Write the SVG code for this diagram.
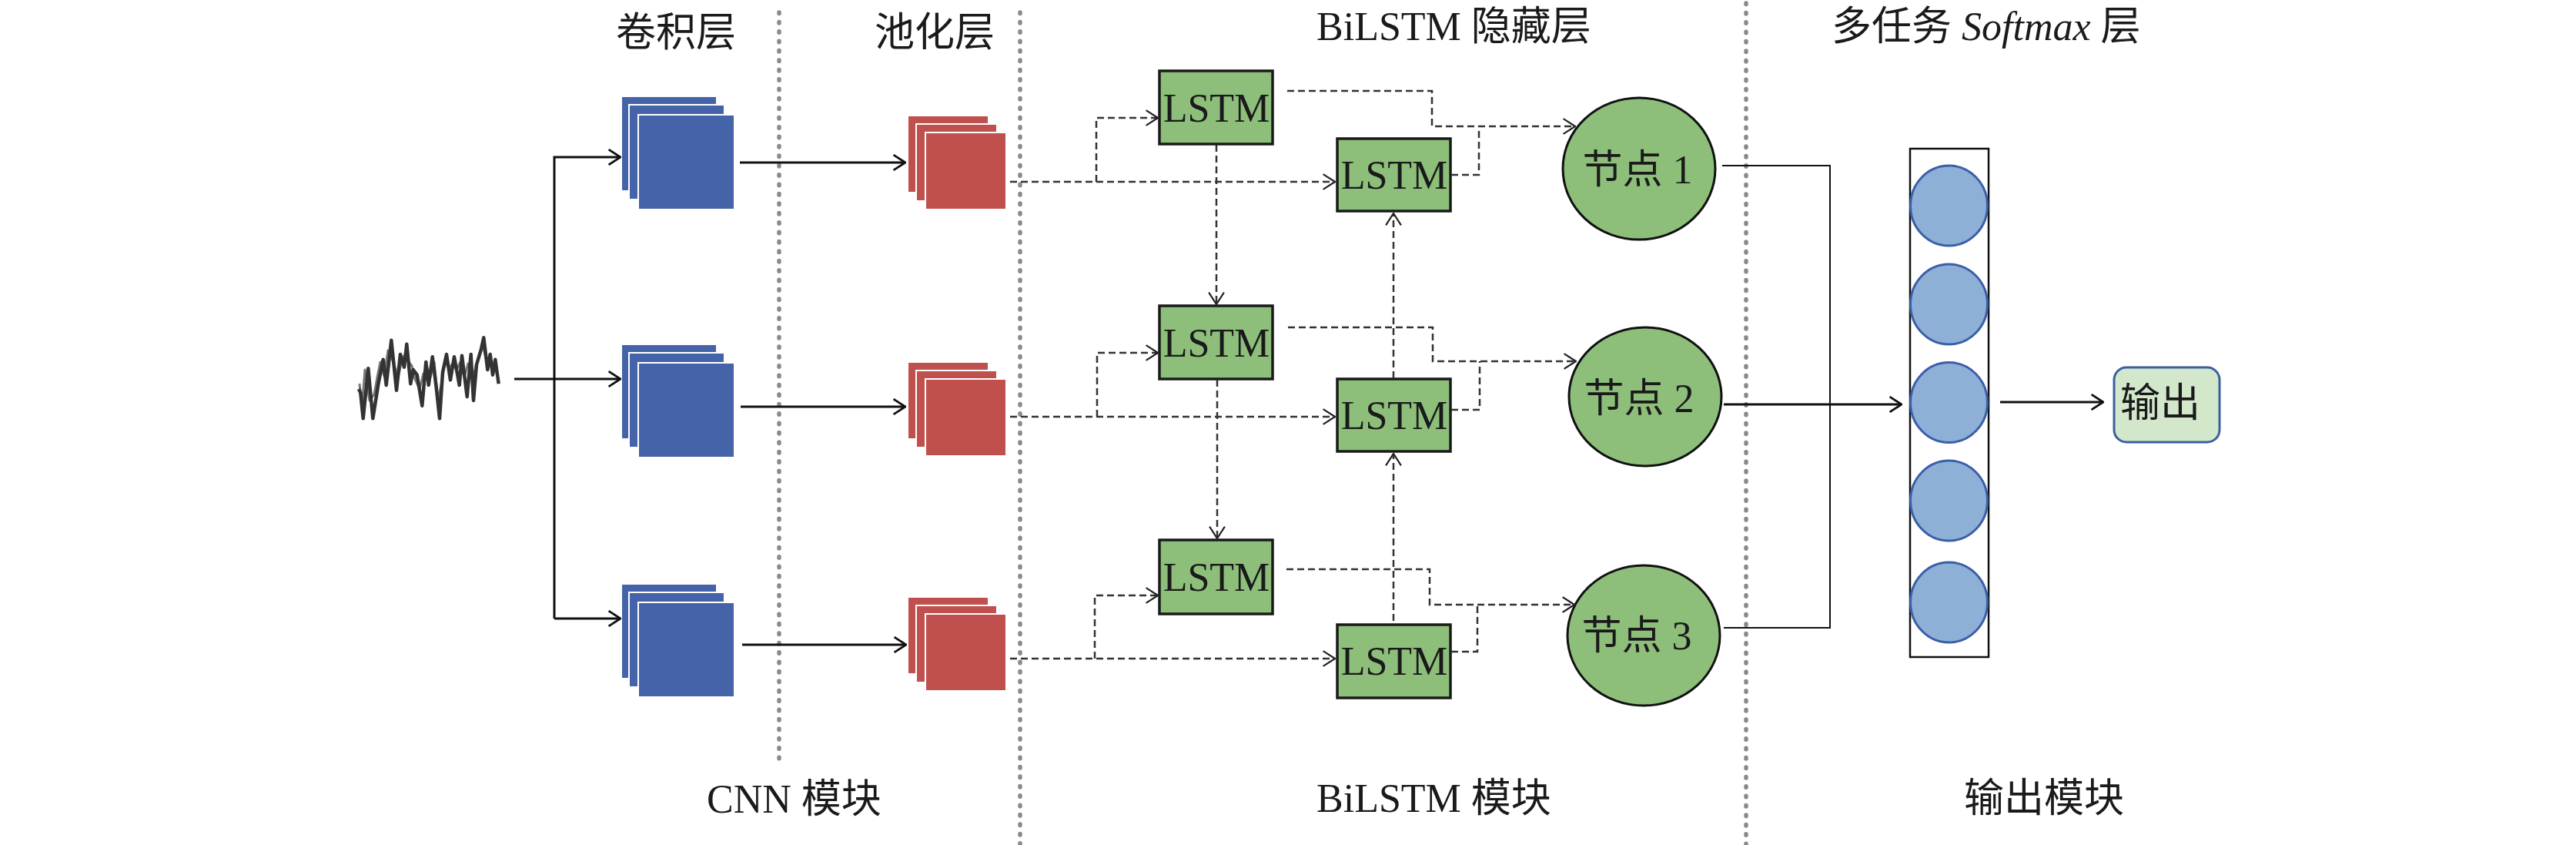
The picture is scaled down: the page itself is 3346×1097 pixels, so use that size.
<svg xmlns="http://www.w3.org/2000/svg" width="3346" height="1097" viewBox="0 0 3346 1097">
<defs>
<style>
.t{font-family:'Liberation Serif','Noto Sans CJK SC',serif;font-size:52px;fill:#1a1a1a}
.cj{font-family:'Liberation Serif','Noto Sans CJK SC',serif;font-size:52px;fill:#1a1a1a}
.sep{stroke:#8a8a8a;stroke-width:5.5;stroke-linecap:round;stroke-dasharray:1.5 10.9;fill:none}
.blue{fill:#4563A8;stroke:#ffffff;stroke-width:2}
.red{fill:#C0504D;stroke:#ffffff;stroke-width:2}
.lstm{fill:#8DBF7B;stroke:#1a1a1a;stroke-width:3.5}
.node{fill:#8DBF7B;stroke:#111;stroke-width:3}
.sm{fill:#8EB0D6;stroke:#3A5FA8;stroke-width:3}
.solid{stroke:#111;stroke-width:3;fill:none}
.thin{stroke:#111;stroke-width:2;fill:none}
.dash{stroke:#333;stroke-width:2.5;stroke-dasharray:9 5;fill:none}
</style>
<marker id="ah" markerUnits="userSpaceOnUse" markerWidth="18" markerHeight="22" viewBox="0 0 16 20" refX="15" refY="10" orient="auto">
<path d="M1,1 L15,10 L1,19" fill="none" stroke="#111" stroke-width="2.5"/>
</marker>
<marker id="ahd" markerUnits="userSpaceOnUse" markerWidth="18" markerHeight="22" viewBox="0 0 16 20" refX="15" refY="10" orient="auto">
<path d="M1,1 L15,10 L1,19" fill="none" stroke="#222" stroke-width="2"/>
</marker>
</defs>
<rect width="3346" height="1097" fill="#ffffff"/>

<g id="separators">
<line class="sep" x1="1012" y1="16" x2="1012" y2="988"/>
<line class="sep" x1="1325" y1="16" x2="1325" y2="1097"/>
<line class="sep" x1="2268" y1="4" x2="2268" y2="1097"/>
</g>

<g id="titles">
<text class="cj" x="800" y="60">卷积层</text>
<text class="cj" x="1136" y="60">池化层</text>
<text class="t" x="1710" y="52">BiLSTM 隐藏层</text>
<text class="t" x="2379" y="52">多任务 <tspan font-style="italic">Softmax</tspan> 层</text>
<text class="t" x="918" y="1055">CNN 模块</text>
<text class="t" x="1710" y="1054">BiLSTM 模块</text>
<text class="cj" x="2551" y="1054">输出模块</text>
</g>

<g id="signal">
<polyline fill="none" stroke="#777" stroke-width="3" stroke-linejoin="round" points="467,498 470,530 474,480 480,520 486,512 490,490 494,470 499,488 504,455 511,470 517,490 522,468 527,458 531,470 535,475 539,492 545,505 550,485 555,478 559,490 564,470 569,520 573,500 578,470 583,478 588,472 593,480 598,470 603,490 608,472 613,490 617,480 622,462 627,448 631,465 635,470 639,478 642,472 646,488"/>
<polyline fill="none" stroke="#333" stroke-width="4.5" stroke-linejoin="round" points="466,505 468.3,510 471.7,543.3 478.3,478.3 484.3,543.3 491.7,496.7 497.7,466.7 501.7,500 508.3,441.7 515,506.7 520,460 525,476.7 528.3,446.7 533.3,498.3 536.7,480 541.7,486.7 548.3,526.7 553.3,470 556.7,500 561.7,463.3 566.7,503.3 571,543.3 575,483.3 580,460 585,493.3 590,463.3 596.7,500 600,461.7 606.7,515 611.7,460 615,520 619,473.3 625,453.3 628.3,438.3 633.3,480 636.7,460 640,486.7 643.3,466.7 647.7,498.3"/>
</g>

<g id="cnn-row1">
<rect class="blue" x="807" y="125" width="124" height="123"/>
<rect class="blue" x="817" y="136" width="124" height="123"/>
<rect class="blue" x="829" y="149" width="125" height="123"/>
</g>
<g id="cnn-row2">
<rect class="blue" x="807" y="447" width="124" height="123"/>
<rect class="blue" x="817" y="458" width="124" height="123"/>
<rect class="blue" x="829" y="471" width="125" height="123"/>
</g>
<g id="cnn-row3">
<rect class="blue" x="807" y="758" width="124" height="123"/>
<rect class="blue" x="817" y="769" width="124" height="123"/>
<rect class="blue" x="829" y="782" width="125" height="123"/>
</g>

<g id="pool-row1">
<rect class="red" x="1179" y="150" width="105" height="100"/>
<rect class="red" x="1190" y="161" width="105" height="100"/>
<rect class="red" x="1202" y="172" width="105" height="100"/>
</g>
<g id="pool-row2">
<rect class="red" x="1179" y="470" width="105" height="100"/>
<rect class="red" x="1190" y="481" width="105" height="100"/>
<rect class="red" x="1202" y="492" width="105" height="100"/>
</g>
<g id="pool-row3">
<rect class="red" x="1179" y="775" width="105" height="100"/>
<rect class="red" x="1190" y="786" width="105" height="100"/>
<rect class="red" x="1202" y="797" width="105" height="100"/>
</g>

<g id="lstm-a1"><rect class="lstm" x="1506" y="92" width="147" height="95"/><text class="t" x="1580" y="158" text-anchor="middle">LSTM</text></g>
<g id="lstm-b1"><rect class="lstm" x="1737" y="180" width="147" height="94"/><text class="t" x="1811" y="245" text-anchor="middle">LSTM</text></g>
<g id="lstm-a2"><rect class="lstm" x="1506" y="397" width="147" height="95"/><text class="t" x="1580" y="463" text-anchor="middle">LSTM</text></g>
<g id="lstm-b2"><rect class="lstm" x="1737" y="492" width="147" height="94"/><text class="t" x="1811" y="557" text-anchor="middle">LSTM</text></g>
<g id="lstm-a3"><rect class="lstm" x="1506" y="701" width="147" height="96"/><text class="t" x="1580" y="767" text-anchor="middle">LSTM</text></g>
<g id="lstm-b3"><rect class="lstm" x="1737" y="811" width="147" height="95"/><text class="t" x="1811" y="876" text-anchor="middle">LSTM</text></g>

<g id="node1"><ellipse class="node" cx="2129" cy="219" rx="99" ry="92"/><text class="t" x="2127" y="238" text-anchor="middle">节点 1</text></g>
<g id="node2"><ellipse class="node" cx="2137" cy="515" rx="99" ry="90"/><text class="t" x="2129" y="535" text-anchor="middle">节点 2</text></g>
<g id="node3"><ellipse class="node" cx="2135" cy="825" rx="99" ry="91"/><text class="t" x="2126" y="843" text-anchor="middle">节点 3</text></g>

<g id="softmax">
<rect x="2481" y="193" width="102" height="660" fill="#ffffff" stroke="#111" stroke-width="2.5"/>
<ellipse class="sm" cx="2531.5" cy="267" rx="50" ry="52"/>
<ellipse class="sm" cx="2531.5" cy="395" rx="50" ry="52"/>
<ellipse class="sm" cx="2531.5" cy="522.5" rx="50" ry="52"/>
<ellipse class="sm" cx="2531.5" cy="650" rx="50" ry="52"/>
<ellipse class="sm" cx="2531.5" cy="782" rx="50" ry="52"/>
</g>

<g id="output">
<rect x="2746" y="477" width="137" height="97" rx="16" fill="#D3E8CA" stroke="#3C5FA0" stroke-width="3"/>
<text class="cj" x="2806" y="541" text-anchor="middle">输出</text>
</g>

<g id="connectors">
<polyline class="solid" points="668,492 806,492" marker-end="url(#ah)"/>
<polyline class="solid" points="720,803 720,204 806,204" marker-end="url(#ah)"/>
<polyline class="solid" points="720,803 806,803" marker-end="url(#ah)"/>
<line class="solid" x1="961" y1="211" x2="1176" y2="211" marker-end="url(#ah)"/>
<line class="solid" x1="962" y1="528" x2="1176" y2="528" marker-end="url(#ah)"/>
<line class="solid" x1="964" y1="837" x2="1177" y2="837" marker-end="url(#ah)"/>

<line class="dash" x1="1312" y1="236" x2="1734" y2="236" marker-end="url(#ahd)"/>
<polyline class="dash" points="1424,236 1424,153 1504,153" marker-end="url(#ahd)"/>
<line class="dash" x1="1312" y1="541" x2="1734" y2="541" marker-end="url(#ahd)"/>
<polyline class="dash" points="1425,541 1425,458 1504,458" marker-end="url(#ahd)"/>
<line class="dash" x1="1312" y1="855" x2="1734" y2="855" marker-end="url(#ahd)"/>
<polyline class="dash" points="1422,855 1422,773 1504,773" marker-end="url(#ahd)"/>

<line class="dash" x1="1580" y1="188" x2="1580" y2="395" marker-end="url(#ahd)"/>
<line class="dash" x1="1581" y1="493" x2="1581" y2="699" marker-end="url(#ahd)"/>
<line class="dash" x1="1810" y1="491" x2="1810" y2="277" marker-end="url(#ahd)"/>
<line class="dash" x1="1810" y1="806" x2="1810" y2="589" marker-end="url(#ahd)"/>

<polyline class="dash" points="1672,118 1860,118 1860,164 2046,164" marker-end="url(#ahd)"/>
<polyline class="dash" points="1885,227 1921,227 1921,164"/>
<polyline class="dash" points="1673,425 1861,425 1861,469 2047,469" marker-end="url(#ahd)"/>
<polyline class="dash" points="1885,532 1922,532 1922,469"/>
<polyline class="dash" points="1671,739 1857,739 1857,785 2045,785" marker-end="url(#ahd)"/>
<polyline class="dash" points="1885,846 1919,846 1919,785"/>

<polyline class="thin" points="2237,215 2377,215 2377,815 2239,815"/>
<line class="solid" x1="2239" y1="525" x2="2470" y2="525" marker-end="url(#ah)"/>
<line class="solid" x1="2598" y1="522" x2="2732" y2="522" marker-end="url(#ah)"/>
</g>
</svg>
